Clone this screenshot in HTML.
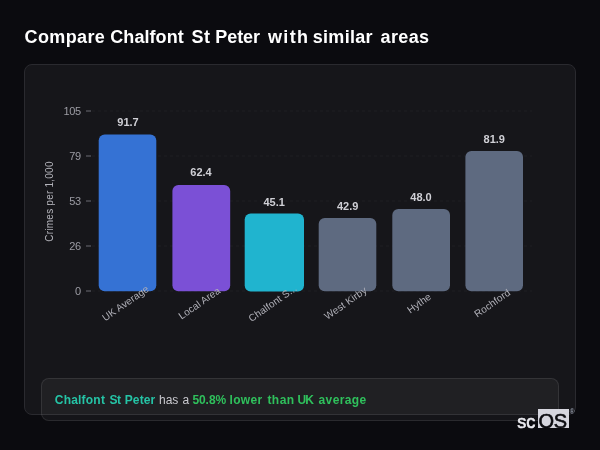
<!DOCTYPE html>
<html><head><meta charset="utf-8">
<style>
html,body{margin:0;padding:0;}
body{width:600px;height:450px;background:#0b0b0f;overflow:hidden;position:relative;font-family:"Liberation Sans","DejaVu Sans",sans-serif;color:#fff;}
#title{position:absolute;left:24px;top:24px;width:420px;height:26px;font-size:18px;font-weight:bold;line-height:26px;white-space:nowrap;color:#fff;}
#title span{position:absolute;top:0;}
#card{position:absolute;left:24px;top:64px;width:550px;height:349px;background:#16161a;border:1px solid #2a2a2f;border-radius:8px;}
#foot{position:absolute;left:41px;top:378px;width:516px;height:41px;background:rgba(255,255,255,0.045);border:1px solid rgba(255,255,255,0.09);border-radius:8px;}
#foot span{position:absolute;top:0;line-height:43px;font-size:12px;white-space:nowrap;color:#c9c9cf;}
#foot .a{color:#25c4a6;font-weight:bold;}
#foot .h{}
#foot .g{color:#2fc05c;font-weight:bold;}
svg{position:absolute;left:0;top:0;}
svg text{font-family:"Liberation Sans","DejaVu Sans",sans-serif;}
#wm{position:absolute;left:517.3px;top:409.7px;font-size:18px;line-height:24px;color:#fff;white-space:nowrap;-webkit-text-stroke:0.6px #ededf2;color:#ededf2;}
#wmb{position:absolute;left:537.7px;top:408.8px;width:31.5px;height:18.9px;background:#d6d6de;}
#wmo{position:absolute;left:538.6px;top:406.9px;font-size:20px;line-height:28px;color:#0b0b0f;white-space:nowrap;-webkit-text-stroke:0.6px #0b0b0f;letter-spacing:-0.5px;}
#reg{position:absolute;left:569.7px;top:407.7px;font-size:6.5px;line-height:8px;color:#a8b0c0;}
</style></head><body>
<div id="title"><span style="left:0.5px;letter-spacing:0.38px">Compare</span> <span style="left:86.25px;letter-spacing:0.07px">Chalfont</span> <span style="left:167.5px;letter-spacing:0.5px">St</span> <span style="left:191.25px;letter-spacing:-0.06px">Peter</span> <span style="left:244px;letter-spacing:1.33px">with</span> <span style="left:288.75px;letter-spacing:0.29px">similar</span> <span style="left:356.5px;letter-spacing:0.38px">areas</span></div>
<div id="card"></div>
<svg width="600" height="450" viewBox="0 0 600 450">
 <g stroke="#fff" stroke-opacity="0.045" stroke-width="1" stroke-dasharray="3 3">
  <line x1="92" y1="111" x2="532" y2="111"/>
  <line x1="92" y1="156" x2="532" y2="156"/>
  <line x1="92" y1="201" x2="532" y2="201"/>
  <line x1="92" y1="246" x2="532" y2="246"/>
  <line x1="92" y1="291" x2="532" y2="291"/>
 </g>
 <g stroke="#6b6b73" stroke-width="1">
  <line x1="86" y1="111" x2="91" y2="111"/>
  <line x1="86" y1="156" x2="91" y2="156"/>
  <line x1="86" y1="201" x2="91" y2="201"/>
  <line x1="86" y1="246" x2="91" y2="246"/>
  <line x1="86" y1="291" x2="91" y2="291"/>
 </g>
 <g fill="#9c9ca4" font-size="11" text-anchor="end" letter-spacing="-0.45">
  <text x="80.6" y="115">105</text>
  <text x="80.6" y="160">79</text>
  <text x="80.6" y="205">53</text>
  <text x="80.6" y="250">26</text>
  <text x="80.6" y="295">0</text>
 </g>
 <text transform="translate(53,201.5) rotate(-90)" text-anchor="middle" fill="#b4b4bb" font-size="10" letter-spacing="0.23">Crimes per 1,000</text>
 <rect x="98.7" y="134.4" width="57.6" height="156.8" rx="6" fill="#3572d4"/>
 <rect x="172.4" y="185" width="57.8" height="106.2" rx="6" fill="#7b50d6"/>
 <rect x="244.7" y="213.5" width="59.3" height="78.1" rx="6" fill="#20b4cf"/>
 <rect x="318.7" y="218" width="57.6" height="73.2" rx="6" fill="#5e6a80"/>
 <rect x="392.3" y="209" width="57.7" height="82.2" rx="6" fill="#5e6a80"/>
 <rect x="465.4" y="151" width="57.6" height="140.2" rx="6" fill="#5e6a80"/>
 <g fill="#d0d0d6" font-size="11" font-weight="bold" text-anchor="middle">
  <text x="128" y="126">91.7</text>
  <text x="201" y="176">62.4</text>
  <text x="274.2" y="205.8">45.1</text>
  <text x="347.7" y="209.8">42.9</text>
  <text x="421" y="200.8">48.0</text>
  <text x="494.3" y="143">81.9</text>
 </g>
 <g fill="#b0b0b8" font-size="10" text-anchor="middle" letter-spacing="0.1">
  <text transform="translate(127.5,306) rotate(-35)">UK Average</text>
  <text transform="translate(201.3,306) rotate(-35)">Local Area</text>
  <text transform="translate(274.6,306) rotate(-35)">Chalfont S...</text>
  <text transform="translate(347.5,306) rotate(-35)">West Kirby</text>
  <text transform="translate(421.1,306) rotate(-35)">Hythe</text>
  <text transform="translate(494.2,306) rotate(-35)">Rochford</text>
 </g>
</svg>
<div id="foot"><span class="a" style="left:12.75px;letter-spacing:0.21px">Chalfont</span> <span class="a" style="left:67.5px;letter-spacing:-0.6px">St</span> <span class="a" style="left:82.75px;letter-spacing:0.12px">Peter</span> <span class="h" style="left:117px;letter-spacing:0px">has</span> <span class="h" style="left:140.4px;letter-spacing:0px">a</span> <span class="g" style="left:150.4px;letter-spacing:-0.06px">50.8%</span> <span class="g" style="left:187.5px;letter-spacing:0.35px">lower</span> <span class="g" style="left:225.4px;letter-spacing:0.47px">than</span> <span class="g" style="left:255.5px;letter-spacing:-0.8px">UK</span> <span class="g" style="left:276.55px;letter-spacing:0.38px">average</span></div>
<div id="wm">sc</div><div id="wmb"></div><div id="wmo">OS</div>
<div id="reg">®</div>
</body></html>
